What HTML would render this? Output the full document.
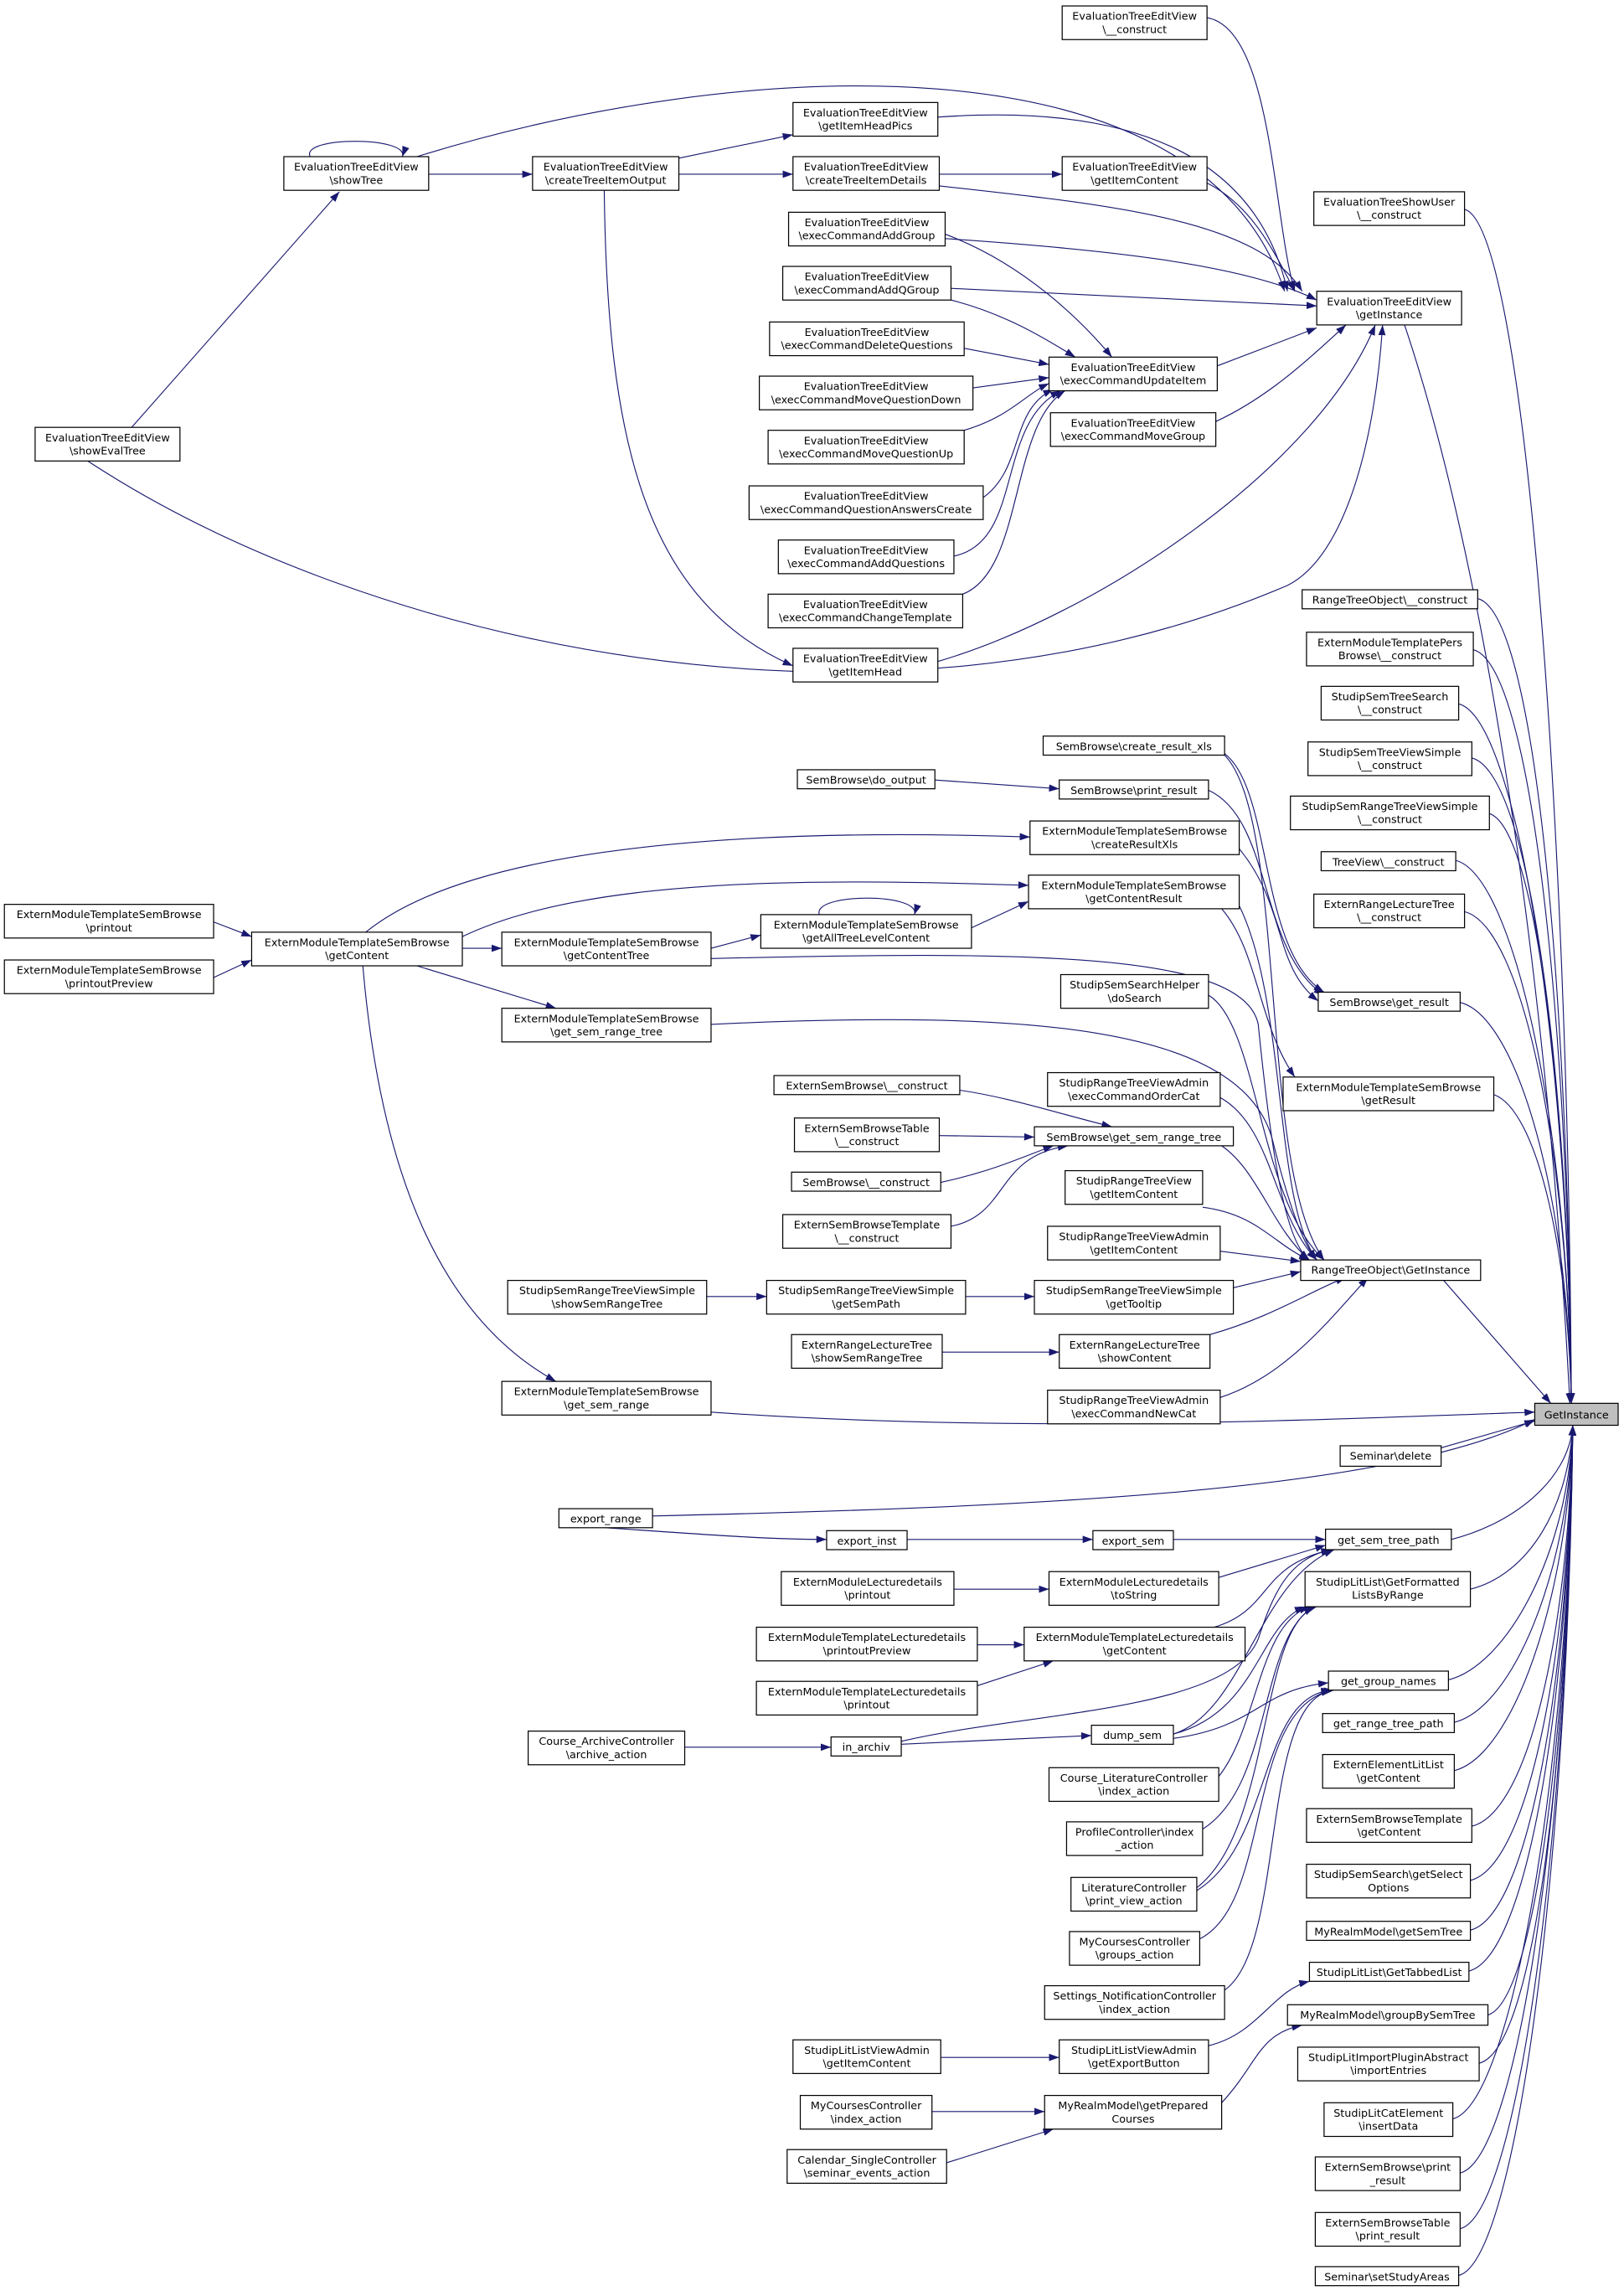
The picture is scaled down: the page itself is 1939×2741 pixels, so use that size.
<!DOCTYPE html>
<html><head><meta charset="utf-8"><style>
html,body{margin:0;padding:0;background:#fff}
svg{display:block}
text{font-family:"DejaVu Sans","Liberation Sans",sans-serif;font-size:7.3px;fill:#000;text-anchor:middle}
rect{fill:#fff;stroke:#000;stroke-width:0.7}
path{fill:none;stroke:#191970;stroke-width:0.65;marker-end:url(#a)}
</style></head><body>
<svg width="1939" height="2741" viewBox="0 0 1110 1569" xmlns="http://www.w3.org/2000/svg">
<defs><marker id="a" markerUnits="userSpaceOnUse" markerWidth="7" markerHeight="5" refX="7" refY="2.5" orient="auto"><polygon points="0,0 7,2.5 0,5" fill="#191970" stroke="none"/></marker></defs>
<g>
<path d="M90 292 L232 131"/>
<path d="M212 107 C205 93 280 93 275 107"/>
<path d="M293 119 L364 119"/>
<path d="M285 107 C500 40 820 20 878 199"/>
<path d="M464 108 L542 92"/>
<path d="M464 119 L542 119"/>
<path d="M413 130 C415 300 440 410 542 455"/>
<path d="M642 119 L726 119"/>
<path d="M642 127 C760 140 860 150 890 199"/>
<path d="M641 80 C780 70 860 110 880 199"/>
<path d="M825 125 C855 140 870 170 885 199"/>
<path d="M825 12 C870 20 870 150 885 199"/>
<path d="M646 160 C700 180 740 220 760 244"/>
<path d="M646 163 C750 170 850 180 900 205"/>
<path d="M650 197 L900 209"/>
<path d="M650 205 C690 215 720 235 735 244"/>
<path d="M659 238 L717 249"/>
<path d="M665 265 L717 258"/>
<path d="M659 294 C690 285 700 270 717 262"/>
<path d="M672 340 C700 320 690 280 720 266"/>
<path d="M652 380 C700 370 680 290 725 267"/>
<path d="M658 406 C700 390 690 290 728 267"/>
<path d="M832 250 L900 224"/>
<path d="M831 288 C870 270 900 240 920 222"/>
<path d="M641 452 C750 420 900 320 940 222"/>
<path d="M60 315 C250 440 600 520 880 400 C920 380 940 300 945 222"/>
<path d="M960 222 C1020 400 1060 700 1073 959"/>
<path d="M1001 143 C1041 153 1072 551 1074 959"/>
<path d="M1010 409 C1050 419 1072 684 1074 959"/>
<path d="M1007 444 C1047 454 1072 701 1074 959"/>
<path d="M997 481 C1037 491 1072 720 1074 959"/>
<path d="M1006 518 C1046 528 1072 738 1074 959"/>
<path d="M1018 556 C1050 566 1072 757 1074 959"/>
<path d="M995 588 C1035 598 1072 773 1074 959"/>
<path d="M1001 623 C1041 633 1072 791 1074 959"/>
<path d="M998 685 C1038 695 1072 822 1074 959"/>
<path d="M1021 748 C1050 758 1072 853 1074 959"/>
<path d="M992 1052 C1032 1042 1072 1013 1075 974"/>
<path d="M1005 1086 C1045 1076 1072 1030 1075 974"/>
<path d="M990 1148 C1030 1138 1072 1061 1075 974"/>
<path d="M994 1177 C1034 1167 1072 1075 1075 974"/>
<path d="M994 1210 C1034 1200 1072 1092 1075 974"/>
<path d="M1006 1248 C1046 1238 1072 1111 1075 974"/>
<path d="M1005 1285 C1045 1275 1072 1130 1075 974"/>
<path d="M1005 1319 C1045 1309 1072 1146 1075 974"/>
<path d="M1004 1347 C1044 1337 1072 1160 1075 974"/>
<path d="M1017 1377 C1050 1367 1072 1175 1075 974"/>
<path d="M1011 1410 C1050 1400 1072 1192 1075 974"/>
<path d="M993 1448 C1033 1438 1072 1211 1075 974"/>
<path d="M998 1485 C1038 1475 1072 1230 1075 974"/>
<path d="M998 1523 C1038 1513 1072 1248 1075 974"/>
<path d="M997 1555 C1037 1545 1072 1265 1075 974"/>
<path d="M639 533 L724 539"/>
<path d="M250 637 C320 580 500 565 704 572"/>
<path d="M316 640 C400 600 550 600 703 605"/>
<path d="M316 648 L343 648"/>
<path d="M285 660 L380 689"/>
<path d="M248 660 C260 800 300 900 380 944"/>
<path d="M146 630 L172 640"/>
<path d="M146 668 L172 656"/>
<path d="M486 648 L520 639"/>
<path d="M560 625 C555 610 630 610 625 625"/>
<path d="M664 634 L703 616"/>
<path d="M486 655 C700 650 850 650 860 700 C870 800 880 850 895 861"/>
<path d="M835 621 C860 650 860 700 885 736"/>
<path d="M845 615 C880 680 870 820 900 861"/>
<path d="M847 580 C880 620 870 660 901 684"/>
<path d="M837 515 C870 540 860 650 905 678"/>
<path d="M826 540 C870 560 860 650 905 680"/>
<path d="M837 516 C880 560 860 800 905 861"/>
<path d="M486 700 C700 690 850 700 870 780 C880 820 890 850 900 861"/>
<path d="M826 680 C860 700 860 820 905 861"/>
<path d="M656 745 C690 750 720 760 760 770"/>
<path d="M642 776 L707 777"/>
<path d="M643 808 C680 800 700 790 720 783"/>
<path d="M650 838 C690 830 680 790 730 783"/>
<path d="M835 783 C860 800 870 840 895 861"/>
<path d="M834 750 C870 770 870 830 900 861"/>
<path d="M822 825 C860 830 870 850 895 861"/>
<path d="M834 855 L889 862"/>
<path d="M483 886 L524 886"/>
<path d="M660 886 L707 886"/>
<path d="M843 880 L889 869"/>
<path d="M644 924 L724 924"/>
<path d="M827 912 C870 900 900 880 920 873"/>
<path d="M834 955 C880 940 910 900 935 873"/>
<path d="M985 873 L1060 959"/>
<path d="M486 965 C700 980 900 970 1049 965"/>
<path d="M983 990 L1049 971"/>
<path d="M446 1036 C700 1030 950 1020 1049 970"/>
<path d="M414 1044 C500 1050 530 1052 565 1052"/>
<path d="M620 1052 L747 1052"/>
<path d="M802 1052 L906 1052"/>
<path d="M652 1086 L717 1086"/>
<path d="M833 1078 L906 1056"/>
<path d="M668 1124 L700 1124"/>
<path d="M668 1152 L720 1135"/>
<path d="M830 1112 C870 1100 860 1070 910 1059"/>
<path d="M468 1194 L568 1194"/>
<path d="M616 1192 L746 1186"/>
<path d="M616 1190 C700 1170 840 1170 860 1120 C870 1090 880 1065 910 1059"/>
<path d="M802 1185 C850 1170 860 1080 912 1059"/>
<path d="M802 1185 C860 1170 860 1110 892 1098"/>
<path d="M802 1188 C860 1180 860 1155 908 1150"/>
<path d="M833 1214 C860 1180 860 1110 895 1098"/>
<path d="M822 1250 C870 1220 860 1120 898 1098"/>
<path d="M818 1290 C870 1250 860 1110 900 1098"/>
<path d="M818 1292 C870 1260 860 1160 910 1155"/>
<path d="M820 1325 C870 1300 850 1170 910 1155"/>
<path d="M837 1360 C880 1330 860 1160 912 1155"/>
<path d="M643 1406 L724 1406"/>
<path d="M826 1398 C860 1390 870 1360 895 1354"/>
<path d="M637 1443 L714 1443"/>
<path d="M647 1478 L720 1455"/>
<path d="M835 1437 C860 1410 860 1390 890 1384"/>
</g>
<g>
<rect x="726" y="4" width="99" height="23"/><text x="775.5" y="13.5">EvaluationTreeEditView</text><text x="775.5" y="22.5">\__construct</text>
<rect x="898" y="131" width="103" height="23"/><text x="949.5" y="140.5">EvaluationTreeShowUser</text><text x="949.5" y="149.5">\__construct</text>
<rect x="900" y="199" width="99" height="23"/><text x="949.5" y="208.5">EvaluationTreeEditView</text><text x="949.5" y="217.5">\getInstance</text>
<rect x="542" y="70" width="99" height="23"/><text x="591.5" y="79.5">EvaluationTreeEditView</text><text x="591.5" y="88.5">\getItemHeadPics</text>
<rect x="542" y="107" width="100" height="23"/><text x="592" y="116.5">EvaluationTreeEditView</text><text x="592" y="125.5">\createTreeItemDetails</text>
<rect x="726" y="107" width="99" height="23"/><text x="775.5" y="116.5">EvaluationTreeEditView</text><text x="775.5" y="125.5">\getItemContent</text>
<rect x="539" y="145" width="107" height="23"/><text x="592.5" y="154.5">EvaluationTreeEditView</text><text x="592.5" y="163.5">\execCommandAddGroup</text>
<rect x="535" y="182" width="115" height="23"/><text x="592.5" y="191.5">EvaluationTreeEditView</text><text x="592.5" y="200.5">\execCommandAddQGroup</text>
<rect x="526" y="220" width="133" height="23"/><text x="592.5" y="229.5">EvaluationTreeEditView</text><text x="592.5" y="238.5">\execCommandDeleteQuestions</text>
<rect x="519" y="257" width="146" height="23"/><text x="592" y="266.5">EvaluationTreeEditView</text><text x="592" y="275.5">\execCommandMoveQuestionDown</text>
<rect x="525" y="294" width="134" height="23"/><text x="592" y="303.5">EvaluationTreeEditView</text><text x="592" y="312.5">\execCommandMoveQuestionUp</text>
<rect x="512" y="332" width="160" height="23"/><text x="592" y="341.5">EvaluationTreeEditView</text><text x="592" y="350.5">\execCommandQuestionAnswersCreate</text>
<rect x="532" y="369" width="120" height="23"/><text x="592" y="378.5">EvaluationTreeEditView</text><text x="592" y="387.5">\execCommandAddQuestions</text>
<rect x="525" y="406" width="133" height="23"/><text x="591.5" y="415.5">EvaluationTreeEditView</text><text x="591.5" y="424.5">\execCommandChangeTemplate</text>
<rect x="542" y="443" width="99" height="23"/><text x="591.5" y="452.5">EvaluationTreeEditView</text><text x="591.5" y="461.5">\getItemHead</text>
<rect x="717" y="244" width="115" height="23"/><text x="774.5" y="253.5">EvaluationTreeEditView</text><text x="774.5" y="262.5">\execCommandUpdateItem</text>
<rect x="718" y="282" width="113" height="23"/><text x="774.5" y="291.5">EvaluationTreeEditView</text><text x="774.5" y="300.5">\execCommandMoveGroup</text>
<rect x="194" y="107" width="99" height="23"/><text x="243.5" y="116.5">EvaluationTreeEditView</text><text x="243.5" y="125.5">\showTree</text>
<rect x="364" y="107" width="100" height="23"/><text x="414" y="116.5">EvaluationTreeEditView</text><text x="414" y="125.5">\createTreeItemOutput</text>
<rect x="24" y="292" width="99" height="23"/><text x="73.5" y="301.5">EvaluationTreeEditView</text><text x="73.5" y="310.5">\showEvalTree</text>
<rect x="890" y="403" width="120" height="13"/><text x="950" y="412.5">RangeTreeObject\__construct</text>
<rect x="893" y="432" width="114" height="23"/><text x="950" y="441.5">ExternModuleTemplatePers</text><text x="950" y="450.5">Browse\__construct</text>
<rect x="903" y="469" width="94" height="23"/><text x="950" y="478.5">StudipSemTreeSearch</text><text x="950" y="487.5">\__construct</text>
<rect x="894" y="507" width="112" height="23"/><text x="950" y="516.5">StudipSemTreeViewSimple</text><text x="950" y="525.5">\__construct</text>
<rect x="882" y="544" width="136" height="23"/><text x="950" y="553.5">StudipSemRangeTreeViewSimple</text><text x="950" y="562.5">\__construct</text>
<rect x="903" y="582" width="92" height="13"/><text x="949" y="591.5">TreeView\__construct</text>
<rect x="898" y="611" width="103" height="23"/><text x="949.5" y="620.5">ExternRangeLectureTree</text><text x="949.5" y="629.5">\__construct</text>
<rect x="901" y="678" width="97" height="13"/><text x="949.5" y="687.5">SemBrowse\get_result</text>
<rect x="877" y="736" width="144" height="23"/><text x="949" y="745.5">ExternModuleTemplateSemBrowse</text><text x="949" y="754.5">\getResult</text>
<rect x="889" y="861" width="123" height="14"/><text x="950.5" y="870.5">RangeTreeObject\GetInstance</text>
<rect x="1049" y="959" width="57" height="15" style="fill:#bfbfbf"/><text x="1077.5" y="969.5">GetInstance</text>
<rect x="916" y="988" width="69" height="14"/><text x="950.5" y="997.5">Seminar\delete</text>
<rect x="906" y="1045" width="86" height="14"/><text x="949" y="1055">get_sem_tree_path</text>
<rect x="892" y="1074" width="113" height="24"/><text x="948.5" y="1083.5">StudipLitList\GetFormatted</text><text x="948.5" y="1092.5">ListsByRange</text>
<rect x="908" y="1142" width="82" height="13"/><text x="949" y="1151.5">get_group_names</text>
<rect x="904" y="1171" width="90" height="13"/><text x="949" y="1180.5">get_range_tree_path</text>
<rect x="904" y="1199" width="90" height="23"/><text x="949" y="1208.5">ExternElementLitList</text><text x="949" y="1217.5">\getContent</text>
<rect x="893" y="1236" width="113" height="23"/><text x="949.5" y="1245.5">ExternSemBrowseTemplate</text><text x="949.5" y="1254.5">\getContent</text>
<rect x="893" y="1274" width="112" height="23"/><text x="949" y="1283.5">StudipSemSearch\getSelect</text><text x="949" y="1292.5">Options</text>
<rect x="893" y="1313" width="112" height="13"/><text x="949" y="1322.5">MyRealmModel\getSemTree</text>
<rect x="895" y="1341" width="109" height="13"/><text x="949.5" y="1350.5">StudipLitList\GetTabbedList</text>
<rect x="880" y="1370" width="137" height="14"/><text x="948.5" y="1379.5">MyRealmModel\groupBySemTree</text>
<rect x="887" y="1399" width="124" height="23"/><text x="949" y="1408.5">StudipLitImportPluginAbstract</text><text x="949" y="1417.5">\importEntries</text>
<rect x="905" y="1437" width="88" height="23"/><text x="949" y="1446.5">StudipLitCatElement</text><text x="949" y="1455.5">\insertData</text>
<rect x="899" y="1474" width="99" height="23"/><text x="948.5" y="1483.5">ExternSemBrowse\print</text><text x="948.5" y="1492.5">_result</text>
<rect x="899" y="1512" width="99" height="23"/><text x="948.5" y="1521.5">ExternSemBrowseTable</text><text x="948.5" y="1530.5">\print_result</text>
<rect x="899" y="1549" width="98" height="13"/><text x="948" y="1558.5">Seminar\setStudyAreas</text>
<rect x="713" y="503" width="124" height="13"/><text x="775" y="512.5">SemBrowse\create_result_xls</text>
<rect x="545" y="526" width="94" height="13"/><text x="592" y="535.5">SemBrowse\do_output</text>
<rect x="724" y="533" width="102" height="13"/><text x="775" y="542.5">SemBrowse\print_result</text>
<rect x="704" y="561" width="143" height="23"/><text x="775.5" y="570.5">ExternModuleTemplateSemBrowse</text><text x="775.5" y="579.5">\createResultXls</text>
<rect x="703" y="598" width="144" height="23"/><text x="775" y="607.5">ExternModuleTemplateSemBrowse</text><text x="775" y="616.5">\getContentResult</text>
<rect x="3" y="618" width="143" height="23"/><text x="74.5" y="627.5">ExternModuleTemplateSemBrowse</text><text x="74.5" y="636.5">\printout</text>
<rect x="3" y="656" width="143" height="23"/><text x="74.5" y="665.5">ExternModuleTemplateSemBrowse</text><text x="74.5" y="674.5">\printoutPreview</text>
<rect x="172" y="637" width="144" height="23"/><text x="244" y="646.5">ExternModuleTemplateSemBrowse</text><text x="244" y="655.5">\getContent</text>
<rect x="343" y="637" width="143" height="23"/><text x="414.5" y="646.5">ExternModuleTemplateSemBrowse</text><text x="414.5" y="655.5">\getContentTree</text>
<rect x="520" y="625" width="144" height="23"/><text x="592" y="634.5">ExternModuleTemplateSemBrowse</text><text x="592" y="643.5">\getAllTreeLevelContent</text>
<rect x="343" y="689" width="143" height="23"/><text x="414.5" y="698.5">ExternModuleTemplateSemBrowse</text><text x="414.5" y="707.5">\get_sem_range_tree</text>
<rect x="725" y="666" width="101" height="23"/><text x="775.5" y="675.5">StudipSemSearchHelper</text><text x="775.5" y="684.5">\doSearch</text>
<rect x="529" y="735" width="127" height="13"/><text x="592.5" y="744.5">ExternSemBrowse\__construct</text>
<rect x="543" y="764" width="99" height="23"/><text x="592.5" y="773.5">ExternSemBrowseTable</text><text x="592.5" y="782.5">\__construct</text>
<rect x="541" y="801" width="102" height="13"/><text x="592" y="810.5">SemBrowse\__construct</text>
<rect x="535" y="830" width="115" height="23"/><text x="592.5" y="839.5">ExternSemBrowseTemplate</text><text x="592.5" y="848.5">\__construct</text>
<rect x="707" y="770" width="136" height="13"/><text x="775" y="779.5">SemBrowse\get_sem_range_tree</text>
<rect x="716" y="733" width="118" height="23"/><text x="775" y="742.5">StudipRangeTreeViewAdmin</text><text x="775" y="751.5">\execCommandOrderCat</text>
<rect x="728" y="800" width="94" height="23"/><text x="775" y="809.5">StudipRangeTreeView</text><text x="775" y="818.5">\getItemContent</text>
<rect x="716" y="838" width="118" height="23"/><text x="775" y="847.5">StudipRangeTreeViewAdmin</text><text x="775" y="856.5">\getItemContent</text>
<rect x="347" y="875" width="136" height="23"/><text x="415" y="884.5">StudipSemRangeTreeViewSimple</text><text x="415" y="893.5">\showSemRangeTree</text>
<rect x="524" y="875" width="136" height="23"/><text x="592" y="884.5">StudipSemRangeTreeViewSimple</text><text x="592" y="893.5">\getSemPath</text>
<rect x="707" y="875" width="136" height="23"/><text x="775" y="884.5">StudipSemRangeTreeViewSimple</text><text x="775" y="893.5">\getTooltip</text>
<rect x="541" y="912" width="103" height="23"/><text x="592.5" y="921.5">ExternRangeLectureTree</text><text x="592.5" y="930.5">\showSemRangeTree</text>
<rect x="724" y="912" width="103" height="23"/><text x="775.5" y="921.5">ExternRangeLectureTree</text><text x="775.5" y="930.5">\showContent</text>
<rect x="716" y="950" width="118" height="23"/><text x="775" y="959.5">StudipRangeTreeViewAdmin</text><text x="775" y="968.5">\execCommandNewCat</text>
<rect x="343" y="944" width="143" height="23"/><text x="414.5" y="953.5">ExternModuleTemplateSemBrowse</text><text x="414.5" y="962.5">\get_sem_range</text>
<rect x="382" y="1031" width="64" height="13"/><text x="414" y="1040.5">export_range</text>
<rect x="565" y="1046" width="55" height="13"/><text x="592.5" y="1055.5">export_inst</text>
<rect x="747" y="1046" width="55" height="13"/><text x="774.5" y="1055.5">export_sem</text>
<rect x="534" y="1074" width="118" height="23"/><text x="593" y="1083.5">ExternModuleLecturedetails</text><text x="593" y="1092.5">\printout</text>
<rect x="717" y="1074" width="116" height="23"/><text x="775" y="1083.5">ExternModuleLecturedetails</text><text x="775" y="1092.5">\toString</text>
<rect x="517" y="1112" width="151" height="23"/><text x="592.5" y="1121.5">ExternModuleTemplateLecturedetails</text><text x="592.5" y="1130.5">\printoutPreview</text>
<rect x="700" y="1112" width="151" height="23"/><text x="775.5" y="1121.5">ExternModuleTemplateLecturedetails</text><text x="775.5" y="1130.5">\getContent</text>
<rect x="517" y="1149" width="151" height="23"/><text x="592.5" y="1158.5">ExternModuleTemplateLecturedetails</text><text x="592.5" y="1167.5">\printout</text>
<rect x="361" y="1183" width="107" height="23"/><text x="414.5" y="1192.5">Course_ArchiveController</text><text x="414.5" y="1201.5">\archive_action</text>
<rect x="568" y="1187" width="48" height="13"/><text x="592" y="1196.5">in_archiv</text>
<rect x="746" y="1179" width="56" height="13"/><text x="774" y="1188.5">dump_sem</text>
<rect x="717" y="1208" width="116" height="23"/><text x="775" y="1217.5">Course_LiteratureController</text><text x="775" y="1226.5">\index_action</text>
<rect x="729" y="1245" width="93" height="23"/><text x="775.5" y="1254.5">ProfileController\index</text><text x="775.5" y="1263.5">_action</text>
<rect x="732" y="1283" width="86" height="23"/><text x="775" y="1292.5">LiteratureController</text><text x="775" y="1301.5">\print_view_action</text>
<rect x="731" y="1320" width="89" height="23"/><text x="775.5" y="1329.5">MyCoursesController</text><text x="775.5" y="1338.5">\groups_action</text>
<rect x="714" y="1357" width="123" height="23"/><text x="775.5" y="1366.5">Settings_NotificationController</text><text x="775.5" y="1375.5">\index_action</text>
<rect x="542" y="1394" width="101" height="23"/><text x="592.5" y="1403.5">StudipLitListViewAdmin</text><text x="592.5" y="1412.5">\getItemContent</text>
<rect x="724" y="1394" width="102" height="23"/><text x="775" y="1403.5">StudipLitListViewAdmin</text><text x="775" y="1412.5">\getExportButton</text>
<rect x="547" y="1432" width="90" height="23"/><text x="592" y="1441.5">MyCoursesController</text><text x="592" y="1450.5">\index_action</text>
<rect x="714" y="1432" width="121" height="23"/><text x="774.5" y="1441.5">MyRealmModel\getPrepared</text><text x="774.5" y="1450.5">Courses</text>
<rect x="538" y="1469" width="109" height="23"/><text x="592.5" y="1478.5">Calendar_SingleController</text><text x="592.5" y="1487.5">\seminar_events_action</text>
</g>
</svg>
</body></html>
